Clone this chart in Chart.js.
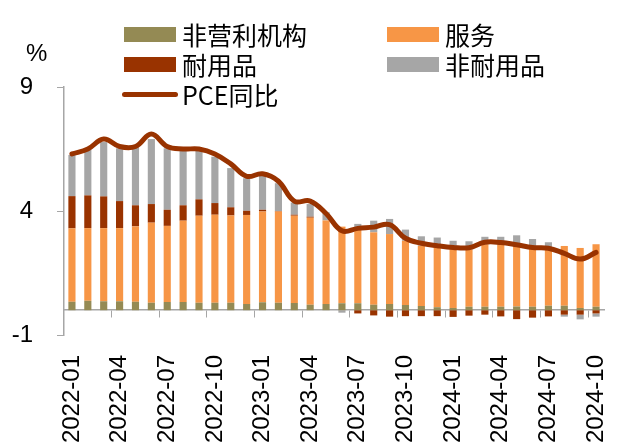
<!DOCTYPE html>
<html>
<head>
<meta charset="utf-8">
<script src="https://cdn.jsdelivr.net/npm/chart.js@4.4.1/dist/chart.umd.min.js"></script>
<style>
    body { margin: 0; background: #fff; }
    #wrap { position: relative; width: 620px; height: 444px; }
    #pceChart { position: absolute; left: 0; top: 0; }
    .unit { position: absolute; left: 26px; top: 39px; font: 24px "Liberation Sans", Arial, sans-serif; color: #000; }
    .leg { position: absolute; height: 30px; display: flex; align-items: center;
           font: 25px "Noto Sans CJK SC", sans-serif; color: #000; line-height: 30px; white-space: nowrap; }
    .leg .box { width: 52px; height: 15px; margin-right: 6px; }
    .leg .ln { width: 56px; height: 5px; border-radius: 3px; margin-left: -2px; margin-right: 4px; }
</style>
</head>
<body>
<div id="wrap">
    <canvas id="pceChart" width="620" height="444"></canvas>
    <div class="unit">%</div>
    <div class="leg" style="left:124px; top:19px"><span class="box" style="background:#948A54"></span>非营利机构</div>
    <div class="leg" style="left:387px; top:19px"><span class="box" style="background:#F79646"></span>服务</div>
    <div class="leg" style="left:124px; top:49px"><span class="box" style="background:#993300"></span>耐用品</div>
    <div class="leg" style="left:387px; top:49px"><span class="box" style="background:#A6A6A6"></span>非耐用品</div>
    <div class="leg" style="left:124px; top:79px"><span class="ln" style="background:#993300"></span>PCE同比</div>
</div>
<script>
const months = [
    '2022-01', '2022-02', '2022-03', '2022-04', '2022-05', '2022-06', '2022-07', '2022-08', '2022-09', '2022-10', '2022-11', '2022-12',
    '2023-01', '2023-02', '2023-03', '2023-04', '2023-05', '2023-06', '2023-07', '2023-08', '2023-09', '2023-10', '2023-11', '2023-12',
    '2024-01', '2024-02', '2024-03', '2024-04', '2024-05', '2024-06', '2024-07', '2024-08', '2024-09', '2024-10'
];
// 非营利机构
const nonProfit = [0.34, 0.38, 0.36, 0.36, 0.34, 0.30, 0.33, 0.33, 0.30, 0.30, 0.30, 0.25,
    0.32, 0.30, 0.29, 0.22, 0.25, 0.28, 0.28, 0.22, 0.25, 0.21, 0.17, 0.12,
    0.09, 0.14, 0.14, 0.14, 0.15, 0.14, 0.18, 0.18, 0.09, 0.14];
// 服务
const services = [2.96, 2.93, 2.95, 2.95, 3.04, 3.23, 3.07, 3.28, 3.51, 3.55, 3.52, 3.59,
    3.66, 3.68, 3.52, 3.51, 3.37, 3.09, 2.98, 2.92, 2.82, 2.59, 2.43, 2.41,
    2.37, 2.30, 2.52, 2.50, 2.45, 2.40, 2.31, 2.41, 2.42, 2.52];
// 耐用品
const durables = [1.30, 1.32, 1.28, 1.09, 0.85, 0.75, 0.65, 0.62, 0.66, 0.47, 0.33, 0.17,
    0.07, 0.02, 0.04, 0.04, 0.00, 0.00, -0.13, -0.21, -0.26, -0.24, -0.24, -0.24,
    -0.27, -0.22, -0.18, -0.25, -0.36, -0.30, -0.25, -0.18, -0.18, -0.13];
// 非耐用品
const nonDurables = [1.66, 1.85, 2.19, 2.13, 2.34, 2.62, 2.48, 2.20, 1.96, 1.87, 1.58, 1.31,
    1.38, 1.12, 0.49, 0.51, 0.33, -0.10, 0.22, 0.47, 0.61, 0.45, 0.38, 0.40,
    0.34, 0.34, 0.30, 0.32, 0.42, 0.33, 0.25, -0.08, -0.19, -0.13];
// PCE同比
const pceYoY = [6.3, 6.5, 6.9, 6.6, 6.6, 7.1, 6.6, 6.5, 6.5, 6.3, 5.9, 5.4,
    5.5, 5.2, 4.4, 4.4, 3.9, 3.2, 3.3, 3.35, 3.45, 2.9, 2.7, 2.6,
    2.53, 2.52, 2.74, 2.73, 2.64, 2.53, 2.5, 2.29, 2.06, 2.33];

const yTicks = [-1, 4, 9];
const axisGray = '#A6A6A6';
const numFont = {family: '"Liberation Sans", Arial, sans-serif', size: 24};

function barSet(label, values, color) {
    return {
        type: 'bar',
        label: label,
        data: values,
        backgroundColor: color,
        borderWidth: 0,
        barPercentage: 0.45,
        categoryPercentage: 1,
        order: 1
    };
}

function drawPceChart() {
    const ctx = document.getElementById('pceChart');

    const data = {
        labels: months,
        datasets: [
            {
                type: 'line',
                label: 'PCE同比',
                data: pceYoY,
                borderColor: '#993300',
                borderWidth: 5,
                borderCapStyle: 'round',
                tension: 0.4,
                pointRadius: 0,
                fill: false,
                stack: 'pce',
                order: 0
            },
            barSet('非营利机构', nonProfit, '#948A54'),
            barSet('服务', services, '#F79646'),
            barSet('耐用品', durables, '#993300'),
            barSet('非耐用品', nonDurables, axisGray)
        ]
    };

    const config = {
        type: 'bar',
        data: data,
        options: {
            responsive: false,
            animation: false,
            layout: {padding: {top: 87, right: 16, left: 0, bottom: 0}},
            plugins: {legend: {display: false}, tooltip: {enabled: false}},
            scales: {
                x: {
                    stacked: true,
                    grid: {display: false, drawTicks: false},
                    border: {display: false},
                    ticks: {
                        autoSkip: false,
                        maxRotation: 90,
                        minRotation: 90,
                        padding: 20,
                        color: '#000',
                        font: numFont,
                        callback: function (value, index) {
                            return index % 3 === 0 ? months[index] : '';
                        }
                    },
                    afterFit: function (scale) {
                        scale.height = 109;
                        scale.paddingLeft = 0;
                        scale.paddingRight = 0;
                    }
                },
                x2: {
                    type: 'category',
                    position: {y: 0},
                    offset: true,
                    grid: {
                        offset: true,
                        drawOnChartArea: false,
                        tickLength: 7,
                        color: c => c.index % 3 === 0 ? axisGray : 'rgba(0,0,0,0)'
                    },
                    border: {display: true, color: axisGray, width: 1.5},
                    ticks: {display: false}
                },
                y: {
                    stacked: true,
                    min: -1,
                    max: 9,
                    afterBuildTicks: function (scale) {
                        scale.ticks = yTicks.map(v => ({value: v}));
                    },
                    grid: {drawOnChartArea: false, tickLength: 7, color: axisGray},
                    border: {display: true, color: axisGray, width: 1.5},
                    ticks: {padding: 24, color: '#000', font: numFont},
                    afterFit: function (scale) { scale.width = 64; }
                }
            }
        }
    };

    new Chart(ctx, config);
}

document.addEventListener("DOMContentLoaded", function () {
    drawPceChart();
});
</script>
</body>
</html>
